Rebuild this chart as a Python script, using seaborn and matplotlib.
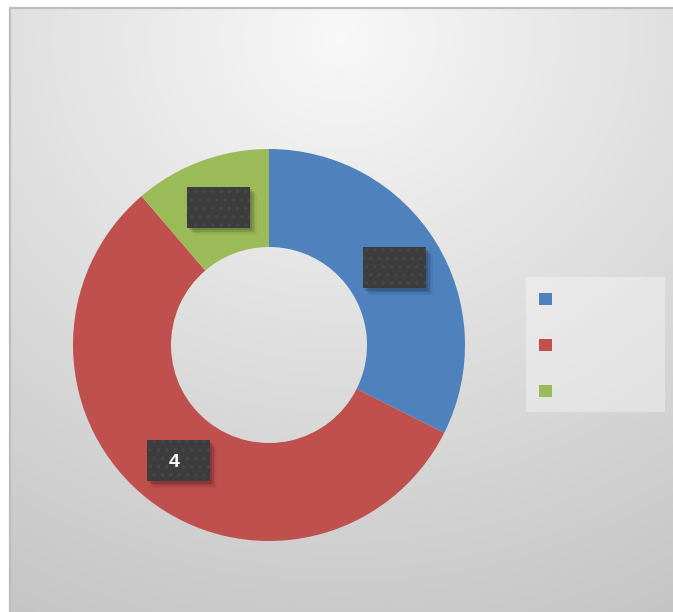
import numpy as np
import seaborn as sns
import matplotlib.pyplot as plt
from matplotlib.patches import Rectangle, Patch

# data
categories = ["", "", ""]          # legend entries carry no readable text
values = [2.3, 4.0, 0.8]
label_texts = ["", "4", ""]        # only the red slice label is legible
colors = ["#4F81BD", "#C0504D", "#9BBB59"]

sns.set_theme(style="white")
plt.rcParams['font.family'] = ['Liberation Sans', 'DejaVu Sans']

W, H = 673, 612
fig = plt.figure(figsize=(W / 100, H / 100), dpi=100)
fig.patch.set_facecolor("white")

# chart area background: soft radial gradient, light at the top
bg = fig.add_axes([10 / W, 0, (W - 10) / W, (H - 8) / H])
yy, xx = np.mgrid[0:H - 8, 0:W - 10]
d = np.hypot((xx - 330) * 0.9, yy - 30) / 640.0
shade = 0.975 - 0.2 * d ** 0.95
bg.imshow(np.dstack([shade] * 3).clip(0, 1), aspect="auto", interpolation="bilinear")
bg.set_axis_off()

# border on top and left of the chart area
fig.add_artist(plt.Line2D([10 / W, 1], [1 - 8 / H, 1 - 8 / H], transform=fig.transFigure,
                          color="#bdbdbd", lw=1.6))
fig.add_artist(plt.Line2D([10 / W, 10 / W], [0, 1 - 8 / H], transform=fig.transFigure,
                          color="#bdbdbd", lw=1.6))

# donut
cx, cy, R = 269, 345, 196
ax = fig.add_axes([(cx - R) / W, (H - cy - R) / H, 2 * R / W, 2 * R / H])
wedges, _ = ax.pie(values, colors=colors, startangle=90, counterclock=False,
                   wedgeprops=dict(width=0.5, linewidth=0))
ax.set_xlim(-1, 1)
ax.set_ylim(-1, 1)
ax.set_aspect("equal")
ax.set_axis_off()

# data label boxes placed along the mid angle of each wedge
bw, bh = 63 / R, 41 / R
px = 1 / R
plt.rcParams['hatch.linewidth'] = 1.5
for w, txt in zip(wedges, label_texts):
    mid = np.deg2rad((w.theta1 + w.theta2) / 2)
    x, y = 0.75 * np.cos(mid), 0.75 * np.sin(mid)
    for k, a in [(7, 0.04), (5.5, 0.06), (4, 0.09), (2.5, 0.12)]:
        ax.add_patch(Rectangle((x - bw / 2 + k * px, y - bh / 2 - k * px), bw, bh,
                               facecolor="black", alpha=a, linewidth=0))
    ax.add_patch(Rectangle((x - bw / 2, y - bh / 2), bw, bh, facecolor="#3d3d3d",
                           edgecolor="#474747", linewidth=0, hatch=".."))
    ax.text(x - 4 * px, y - 2 * px, txt, ha="center", va="center", color="white",
            fontsize=14, fontweight="bold")

# legend frame and entries
fig.add_artist(Rectangle((526 / W, 1 - 412 / H), 139 / W, 135 / H, transform=fig.transFigure,
                         facecolor="white", alpha=0.35, linewidth=0))
handles = [Patch(facecolor=c, linewidth=0) for c in colors]
fig.legend(handles, categories, loc="upper left", bbox_to_anchor=(539 / W, 1 - 293 / H),
           frameon=False, fontsize=10, handlelength=0.95, handleheight=0.95,
           labelspacing=2.3, borderpad=0, borderaxespad=0, handletextpad=0.5)

fig.savefig("out.png", dpi=100)
